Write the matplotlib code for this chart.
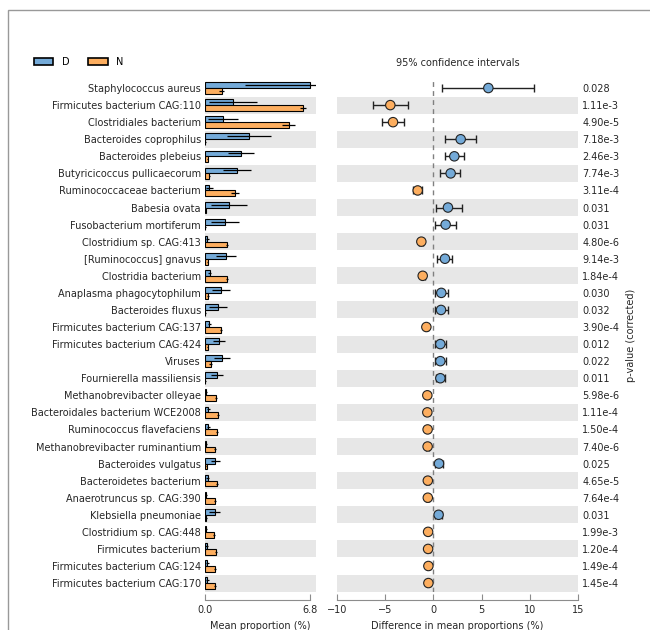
import matplotlib
matplotlib.use("Agg")
import matplotlib.pyplot as plt
import numpy as np
from matplotlib.patches import Patch, Rectangle

# taxa, top to bottom
taxa = [
    "Staphylococcus aureus", "Firmicutes bacterium CAG:110", "Clostridiales bacterium",
    "Bacteroides coprophilus", "Bacteroides plebeius", "Butyricicoccus pullicaecorum",
    "Ruminococcaceae bacterium", "Babesia ovata", "Fusobacterium mortiferum",
    "Clostridium sp. CAG:413", "[Ruminococcus] gnavus", "Clostridia bacterium",
    "Anaplasma phagocytophilum", "Bacteroides fluxus", "Firmicutes bacterium CAG:137",
    "Firmicutes bacterium CAG:424", "Viruses", "Fournierella massiliensis",
    "Methanobrevibacter olleyae", "Bacteroidales bacterium WCE2008",
    "Ruminococcus flavefaciens", "Methanobrevibacter ruminantium", "Bacteroides vulgatus",
    "Bacteroidetes bacterium", "Anaerotruncus sp. CAG:390", "Klebsiella pneumoniae",
    "Clostridium sp. CAG:448", "Firmicutes bacterium", "Firmicutes bacterium CAG:124",
    "Firmicutes bacterium CAG:170",
]

# mean proportion (%) and std dev per group
mean_d = [6.8, 1.79, 1.19, 2.83, 2.35, 2.05, 0.28, 1.58, 1.3, 0.15, 1.36, 0.32, 1.04, 0.83,
          0.28, 0.9, 1.1, 0.76, 0.05, 0.2, 0.2, 0.05, 0.68, 0.18, 0.05, 0.62, 0.05, 0.12,
          0.15, 0.15]
std_d = [4.2, 1.55, 0.97, 1.42, 0.85, 0.9, 0.22, 1.17, 0.88, 0.1, 0.64, 0.1, 0.58, 0.58,
         0.1, 0.39, 0.52, 0.39, 0.05, 0.1, 0.1, 0.05, 0.32, 0.1, 0.05, 0.33, 0.05, 0.1,
         0.1, 0.1]
mean_n = [1.08, 6.33, 5.42, 0.02, 0.17, 0.28, 1.94, 0.05, 0.02, 1.44, 0.17, 1.44, 0.2, 0.02,
          1.04, 0.17, 0.37, 0.02, 0.71, 0.86, 0.8, 0.65, 0.1, 0.76, 0.65, 0.08, 0.6, 0.71,
          0.65, 0.65]
std_n = [0.15, 0.2, 0.41, 0.02, 0.05, 0.05, 0.28, 0.02, 0.02, 0.08, 0.05, 0.08, 0.05, 0.02,
         0.06, 0.05, 0.08, 0.02, 0.05, 0.06, 0.06, 0.05, 0.03, 0.06, 0.05, 0.03, 0.05, 0.06,
         0.06, 0.06]

# difference in mean proportions (%) with 95% CI
diff = [5.7, -4.47, -4.19, 2.83, 2.17, 1.79, -1.63, 1.51, 1.27, -1.25, 1.2, -1.11, 0.82,
        0.79, -0.73, 0.72, 0.72, 0.72, -0.63, -0.63, -0.6, -0.6, 0.58, -0.58, -0.58, 0.54,
        -0.55, -0.55, -0.52, -0.52]
ci_low = [0.93, -6.23, -5.37, 1.17, 1.17, 0.72, -2.08, 0.24, 0.17, -1.45, 0.41, -1.3, 0.13,
          0.2, -0.9, 0.2, 0.12, 0.27, -0.78, -0.8, -0.76, -0.74, 0.2, -0.74, -0.72, 0.17,
          -0.68, -0.7, -0.64, -0.64]
ci_high = [10.47, -2.67, -3.02, 4.42, 3.17, 2.79, -1.18, 2.93, 2.38, -1.05, 1.97, -0.92, 1.51,
           1.48, -0.56, 1.27, 1.32, 1.2, -0.48, -0.46, -0.44, -0.46, 1.0, -0.42, -0.44, 0.93,
           -0.42, -0.4, -0.4, -0.4]

p_values = ["0.028", "1.11e-3", "4.90e-5", "7.18e-3", "2.46e-3", "7.74e-3", "3.11e-4",
            "0.031", "0.031", "4.80e-6", "9.14e-3", "1.84e-4", "0.030", "0.032", "3.90e-4",
            "0.012", "0.022", "0.011", "5.98e-6", "1.11e-4", "1.50e-4", "7.40e-6", "0.025",
            "4.65e-5", "7.64e-4", "0.031", "1.99e-3", "1.20e-4", "1.49e-4", "1.45e-4"]

groups = ["D", "N"]
c_d = "#74aad8"
c_n = "#fdae5f"
band = "#e7e7e7"
fs = 7
txt = "#262626"

plt.rcParams["font.family"] = "DejaVu Sans"
plt.rcParams["font.size"] = fs

fig = plt.figure(figsize=(6.5, 6.3), dpi=100)
fig.patches.append(Rectangle((8 / 650, -0.1), 1.2, 1.1 - 10 / 630, transform=fig.transFigure,
                             fill=False, edgecolor="0.6", linewidth=1.0))

bottom = 1 - 591.6 / 630
height = (591.6 - 79.5) / 630
ax1 = fig.add_axes([205 / 650, bottom, 111 / 650, height])
ax2 = fig.add_axes([337 / 650, bottom, 241 / 650, height])

n = len(taxa)
y = np.arange(n)
bh = 0.34

for ax in (ax1, ax2):
    for i in range(1, n, 2):
        ax.axhspan(i - 0.5, i + 0.5, color=band, lw=0, zorder=0)
    ax.set_ylim(n - 0.5, -0.5)
    for s in ("top", "right", "left"):
        ax.spines[s].set_visible(False)
    ax.spines["bottom"].set_position(("outward", 6))
    ax.spines["bottom"].set_color("0.55")
    ax.tick_params(axis="x", direction="in", length=4, color="0.55", labelcolor=txt,
                   labelsize=fs, pad=4)
    ax.tick_params(axis="y", length=0, labelcolor=txt, labelsize=fs)

# left: mean proportions
ax1.barh(y - bh / 2, mean_d, height=bh, xerr=std_d, color=c_d, edgecolor="black",
         linewidth=0.8, error_kw=dict(ecolor="black", elinewidth=0.9, capsize=0), zorder=2)
ax1.barh(y + bh / 2, mean_n, height=bh, xerr=std_n, color=c_n, edgecolor="black",
         linewidth=0.8, error_kw=dict(ecolor="black", elinewidth=0.9, capsize=0), zorder=2)
ax1.set_xlim(0, 7.19)
ax1.set_xticks([0, 6.8])
ax1.set_xticklabels(["0.0", "6.8"])
ax1.spines["bottom"].set_bounds(0, 6.8)
ax1.set_yticks(y)
ax1.set_yticklabels(taxa)
ax1.tick_params(axis="y", pad=3)
ax1.set_xlabel("Mean proportion (%)", fontsize=fs, color=txt, labelpad=4)

# right: difference with confidence intervals
diff_a = np.array(diff)
err = [diff_a - np.array(ci_low), np.array(ci_high) - diff_a]
ax2.axvline(0, color="0.5", linestyle=(0, (3.5, 3)), linewidth=1, zorder=1)
ax2.errorbar(diff, y, xerr=err, fmt="none", ecolor="#222222", elinewidth=1, capsize=3,
             capthick=1, zorder=2)
colors = [c_d if d > 0 else c_n for d in diff]
ax2.scatter(diff, y, s=46, c=colors, edgecolors="#222222", linewidths=0.8, zorder=3)
ax2.set_xlim(-10, 15)
ax2.set_xticks([-10, -5, 0, 5, 10, 15])
ax2.set_xlabel("Difference in mean proportions (%)", fontsize=fs, color=txt, labelpad=4)
ax2.set_title("95% confidence intervals", fontsize=fs, color=txt, pad=10)
ax2.yaxis.tick_right()
ax2.set_yticks(y)
ax2.set_yticklabels(p_values)
ax2.tick_params(axis="y", pad=3)
ax2.yaxis.set_label_position("right")
ax2.set_ylabel("p-value (corrected)", fontsize=fs, color=txt, labelpad=5)

handles = [Patch(facecolor=c_d, edgecolor="black", linewidth=1.2),
           Patch(facecolor=c_n, edgecolor="black", linewidth=1.2)]
fig.legend(handles, groups, loc="center left", bbox_to_anchor=(34 / 650, 1 - 62 / 630),
           ncol=2, frameon=False, fontsize=fs, handlelength=2.0, handleheight=0.7,
           handletextpad=0.9, columnspacing=1.9, borderpad=0, borderaxespad=0)

fig.savefig("out.png", dpi=100)
